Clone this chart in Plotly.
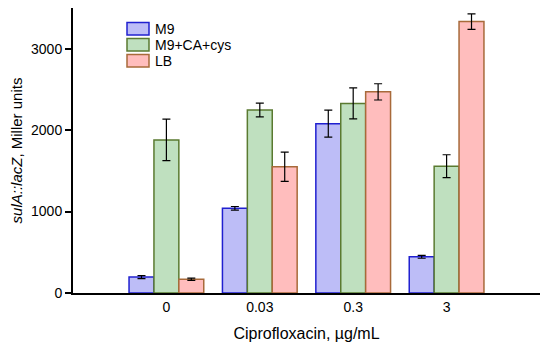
import plotly.graph_objects as go

categories = ["0", "0.03", "0.3", "3"]
series_names = ["M9", "M9+CA+cys", "LB"]
m9_values = [195, 1040, 2080, 445]
m9_errors = [18, 22, 165, 18]
m9ca_values = [1880, 2247, 2328, 1558]
m9ca_errors = [255, 85, 190, 140]
lb_values = [168, 1550, 2470, 3333]
lb_errors = [14, 180, 100, 95]
y_ticks = [0, 1000, 2000, 3000]

fills = ["#BDBDF7", "#BFE0BF", "#FFBDBD"]
borders = ["#2020D0", "#5A7A30", "#A86A3A"]

# figure geometry (page body has an 8px default margin, compensated here)
W, H = 542, 345
ML, MR, MT, MB = 65, 10, 0, 60
PW, PH = W - ML - MR, H - MT - MB


def px_x(px):
    return (px - ML) / PW


def px_y(py):
    return 1 - (py - MT) / PH


fig = go.Figure()
for name, vals, errs, fc, bc in zip(series_names,
                                    [m9_values, m9ca_values, lb_values],
                                    [m9_errors, m9ca_errors, lb_errors],
                                    fills, borders):
    fig.add_trace(go.Bar(
        x=categories, y=vals, name=name,
        marker=dict(color=fc, line=dict(color=bc, width=1.5)),
        error_y=dict(type="data", array=errs, visible=True,
                     color="black", thickness=1.2, width=4),
        showlegend=False,
    ))

# legend drawn as boxes + labels
shapes = []
annotations = []
for i, (name, fc, bc) in enumerate(zip(series_names, fills, borders)):
    top = 14.5 + 16 * i
    shapes.append(dict(type="rect", xref="paper", yref="paper",
                       x0=px_x(119), x1=px_x(141),
                       y0=px_y(top + 12.4), y1=px_y(top),
                       fillcolor=fc, line=dict(color=bc, width=1.5)))
    annotations.append(dict(xref="paper", yref="paper",
                            x=px_x(146), y=px_y(top + 6.2),
                            xanchor="left", yanchor="middle",
                            text=name, showarrow=False, borderpad=0,
                            font=dict(size=14, color="black")))

font_family = "Liberation Sans, Arial, sans-serif"
fig.update_layout(
    width=W, height=H,
    margin=dict(l=ML, r=MR, t=MT, b=MB),
    paper_bgcolor="white", plot_bgcolor="white",
    barmode="group", bargap=0.2, bargroupgap=0,
    font=dict(family=font_family, size=14, color="black"),
    shapes=shapes, annotations=annotations,
    xaxis=dict(
        type="category", range=[-1, 4], automargin=False,
        showline=True, linecolor="black", linewidth=2,
        ticks="", showgrid=False, zeroline=False,
        tickfont=dict(size=14),
        title=dict(text="Ciprofloxacin, \u00b5g/mL", font=dict(size=16), standoff=14),
    ),
    yaxis=dict(
        range=[0, 3500], tickvals=y_ticks, automargin=False,
        showline=True, linecolor="black", linewidth=2,
        ticks="outside", ticklen=6, tickwidth=1.5, tickcolor="black",
        showgrid=False, zeroline=False,
        tickfont=dict(size=14),
        title=dict(text="<i>sulA::lacZ</i>, Miller units", font=dict(size=15), standoff=8),
    ),
)

fig.write_html("out.html")
